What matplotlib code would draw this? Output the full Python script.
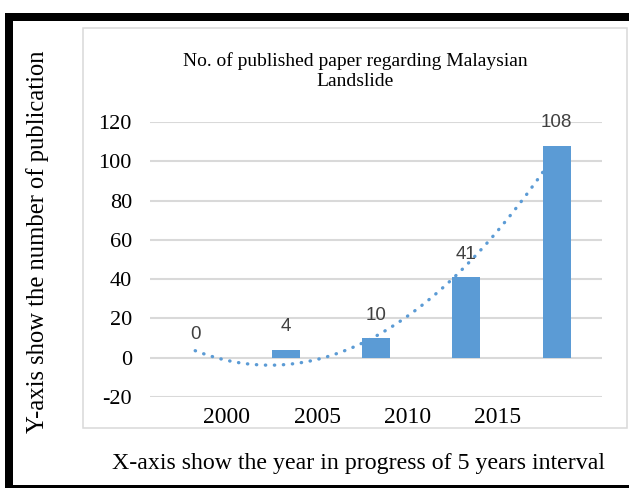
import numpy as np
import matplotlib
matplotlib.use("Agg")
import matplotlib.pyplot as plt
from matplotlib.patches import Rectangle

# publications per 5-year bin
counts = [0, 4, 10, 41, 108]
tick_labels = ["2000", "2005", "2010", "2015"]
y_ticks = [-20, 0, 20, 40, 60, 80, 100, 120]

W, H = 629, 488
blue = "#5B9BD5"
grid = "#D9D9D9"
serif = "Liberation Serif"
sans = "Liberation Sans"

fig = plt.figure(figsize=(W / 100, H / 100), dpi=100)

def fx(px):
    return px / W

def fy(py):
    return 1 - py / H

def box(x0, y0, x1, y1, **kw):
    # rectangle given in pixel coords, origin top-left
    fig.add_artist(Rectangle((fx(x0), fy(y1)), fx(x1) - fx(x0), fy(y0) - fy(y1),
                             transform=fig.transFigure, **kw))

# black frame round the page
box(5, 13, W, 21, facecolor="black", edgecolor="none")
box(5, 13, 13, H, facecolor="black", edgecolor="none")
box(5, 485, W, H, facecolor="black", edgecolor="none")
# chart area border
box(83, 28, 627, 428, facecolor="none", edgecolor=grid, lw=1.1)

ax = fig.add_axes([fx(150), fy(397), fx(602) - fx(150), fy(122) - fy(397)])
x = np.arange(len(counts))

# second order polynomial trend
coef = np.polyfit(x, counts, 2)
xs = np.linspace(0, len(counts) - 1, 200)
ax.plot(xs, np.polyval(coef, xs), color=blue, lw=2.4,
        linestyle=(0, (0.1, 2.6)), dash_capstyle="round", zorder=2)

ax.bar(x, counts, width=0.31, color=blue, zorder=3)
for xi, v in zip(x, counts):
    ax.annotate(str(v), (xi, v), xytext=(0, 16.5), textcoords="offset points",
                ha="center", va="center", fontsize=13.5, color="#404040",
                family=sans, zorder=4)

ax.set_xlim(-0.5, len(counts) - 0.5)
ax.set_ylim(-20, 120)
ax.set_yticks(y_ticks)
ax.set_yticklabels([str(t) for t in y_ticks], family=serif, fontsize=16)
ax.set_xticks(np.arange(len(tick_labels)) + 0.35)
ax.set_xticklabels(tick_labels, family=serif, fontsize=17)
ax.tick_params(axis="y", length=0, pad=13)
ax.tick_params(axis="x", length=0, pad=7)
ax.grid(axis="y", color=grid, lw=1.5, zorder=0)
ax.set_axisbelow(True)
for s in ax.spines.values():
    s.set_visible(False)

fig.text(fx(355), fy(71), "No. of published paper regarding Malaysian\nLandslide",
         ha="center", va="center", family=serif, fontsize=14, linespacing=1.25)
fig.text(fx(38), fy(242), "Y-axis show the number of publication", rotation=90,
         ha="center", va="center", family=serif, fontsize=17.7)
fig.text(fx(358), fy(463), "X-axis show the year in progress of 5 years interval",
         ha="center", va="center", family=serif, fontsize=17.2)

fig.savefig("out.png", dpi=100)
